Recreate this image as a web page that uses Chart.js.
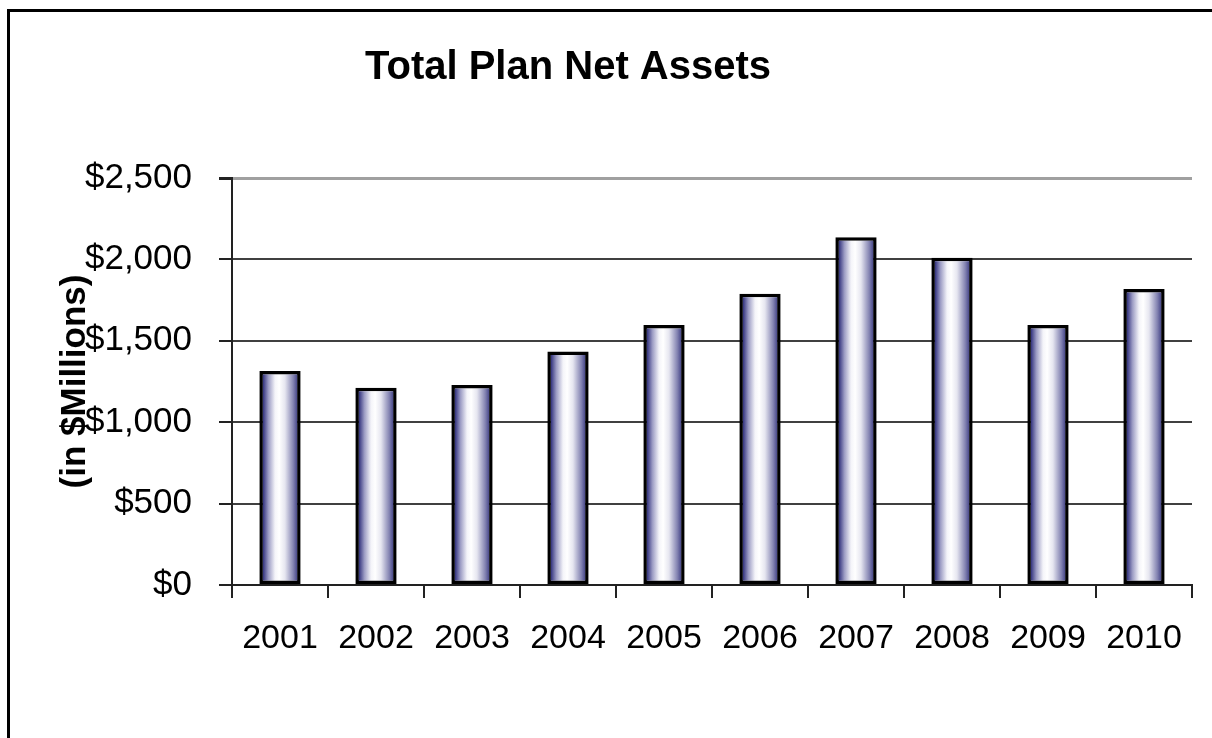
<!DOCTYPE html>
<html><head><meta charset="utf-8">
<script src="https://cdn.jsdelivr.net/npm/chart.js@4.4.0/dist/chart.umd.min.js"></script>
<style>
html,body{margin:0;padding:0;background:#fff;}
#wrap{position:relative;width:1212px;height:738px;overflow:hidden;background:#fff;}
#frame{position:absolute;left:7px;top:9px;width:1400px;height:900px;border:3px solid #000;box-sizing:border-box;}
canvas{position:absolute;left:0;top:0;}
</style></head><body>
<div id="wrap"><div id="frame"></div><canvas id="c" width="1212" height="738"></canvas></div>
<script>
const years = ['2001','2002','2003','2004','2005','2006','2007','2008','2009','2010'];
const netAssets = [1315, 1212, 1228, 1435, 1597, 1789, 2136, 2010, 1597, 1818];
const yTickValues = [0, 500, 1000, 1500, 2000, 2500];
const yTickLabels = ['$0', '$500', '$1,000', '$1,500', '$2,000', '$2,500'];
const chartTitle = 'Total Plan Net Assets';
const yAxisTitle = '(in $Millions)';

const FONT = '"Liberation Sans", Arial, sans-serif';
const BAR_PCT = 0.43;

function barFill(ctx) {
  const chart = ctx.chart;
  const xs = chart.scales && chart.scales.x;
  if (!chart.chartArea || !xs || ctx.dataIndex === undefined) return '#6a6aa0';
  const cx = xs.getPixelForValue(ctx.dataIndex);
  const w = xs.width / years.length * BAR_PCT;
  const g = chart.ctx.createLinearGradient(cx - w / 2, 0, cx + w / 2, 0);
  g.addColorStop(0.00, '#222268');
  g.addColorStop(0.10, '#3c3c84');
  g.addColorStop(0.22, '#9c9cc4');
  g.addColorStop(0.38, '#f4f4f9');
  g.addColorStop(0.48, '#ffffff');
  g.addColorStop(0.62, '#e6e6f0');
  g.addColorStop(0.82, '#8484b2');
  g.addColorStop(0.92, '#464688');
  g.addColorStop(1.00, '#262670');
  return g;
}

const titlePlugin = {
  id: 'mainTitle',
  afterDraw(chart) {
    const c = chart.ctx;
    c.save();
    c.font = 'bold 40px ' + FONT;
    c.fillStyle = '#000';
    c.textAlign = 'center';
    c.textBaseline = 'alphabetic';
    c.fillText(chartTitle, 568, 79);
    c.restore();
  }
};

new Chart(document.getElementById('c'), {
  type: 'bar',
  data: {
    labels: years,
    datasets: [{
      data: netAssets,
      backgroundColor: barFill,
      borderColor: '#000',
      borderWidth: 3.5,
      borderSkipped: false,
      barPercentage: BAR_PCT,
      categoryPercentage: 1.0
    }]
  },
  options: {
    responsive: false,
    animation: false,
    devicePixelRatio: 1,
    layout: { padding: { top: 178, right: 20, left: 0, bottom: 0 } },
    plugins: {
      legend: { display: false },
      tooltip: { enabled: false },
      title: { display: false }
    },
    scales: {
      x: {
        ticks: { color: '#000', font: { family: FONT, size: 34 }, padding: 20, maxRotation: 0, autoSkip: false },
        grid: { drawOnChartArea: false, drawTicks: true, tickLength: 13, tickColor: '#222', lineWidth: 2, offset: true },
        border: { color: '#222', width: 2 },
        afterFit: s => { s.height = 153; }
      },
      y: {
        min: 0, max: 2500,
        afterBuildTicks: s => { s.ticks = yTickValues.map(v => ({ value: v })); },
        ticks: {
          color: '#000', font: { family: FONT, size: 35 }, padding: 27,
          callback: (v) => { const i = yTickValues.indexOf(v); return i >= 0 ? yTickLabels[i] : ''; }
        },
        grid: {
          color: c => (c.tick && c.tick.value === 2500) ? '#a0a0a0' : '#404040',
          lineWidth: c => (c.tick && c.tick.value === 2500) ? 3 : 2,
          tickLength: 13, tickColor: '#222'
        },
        border: { color: '#222', width: 2 },
        title: { display: true, text: yAxisTitle, color: '#000', font: { family: FONT, size: 35, weight: 'bold' }, padding: { top: 54, bottom: 0 } },
        afterFit: s => { s.width = 232; }
      }
    }
  },
  plugins: [titlePlugin]
});
</script>
</body></html>
